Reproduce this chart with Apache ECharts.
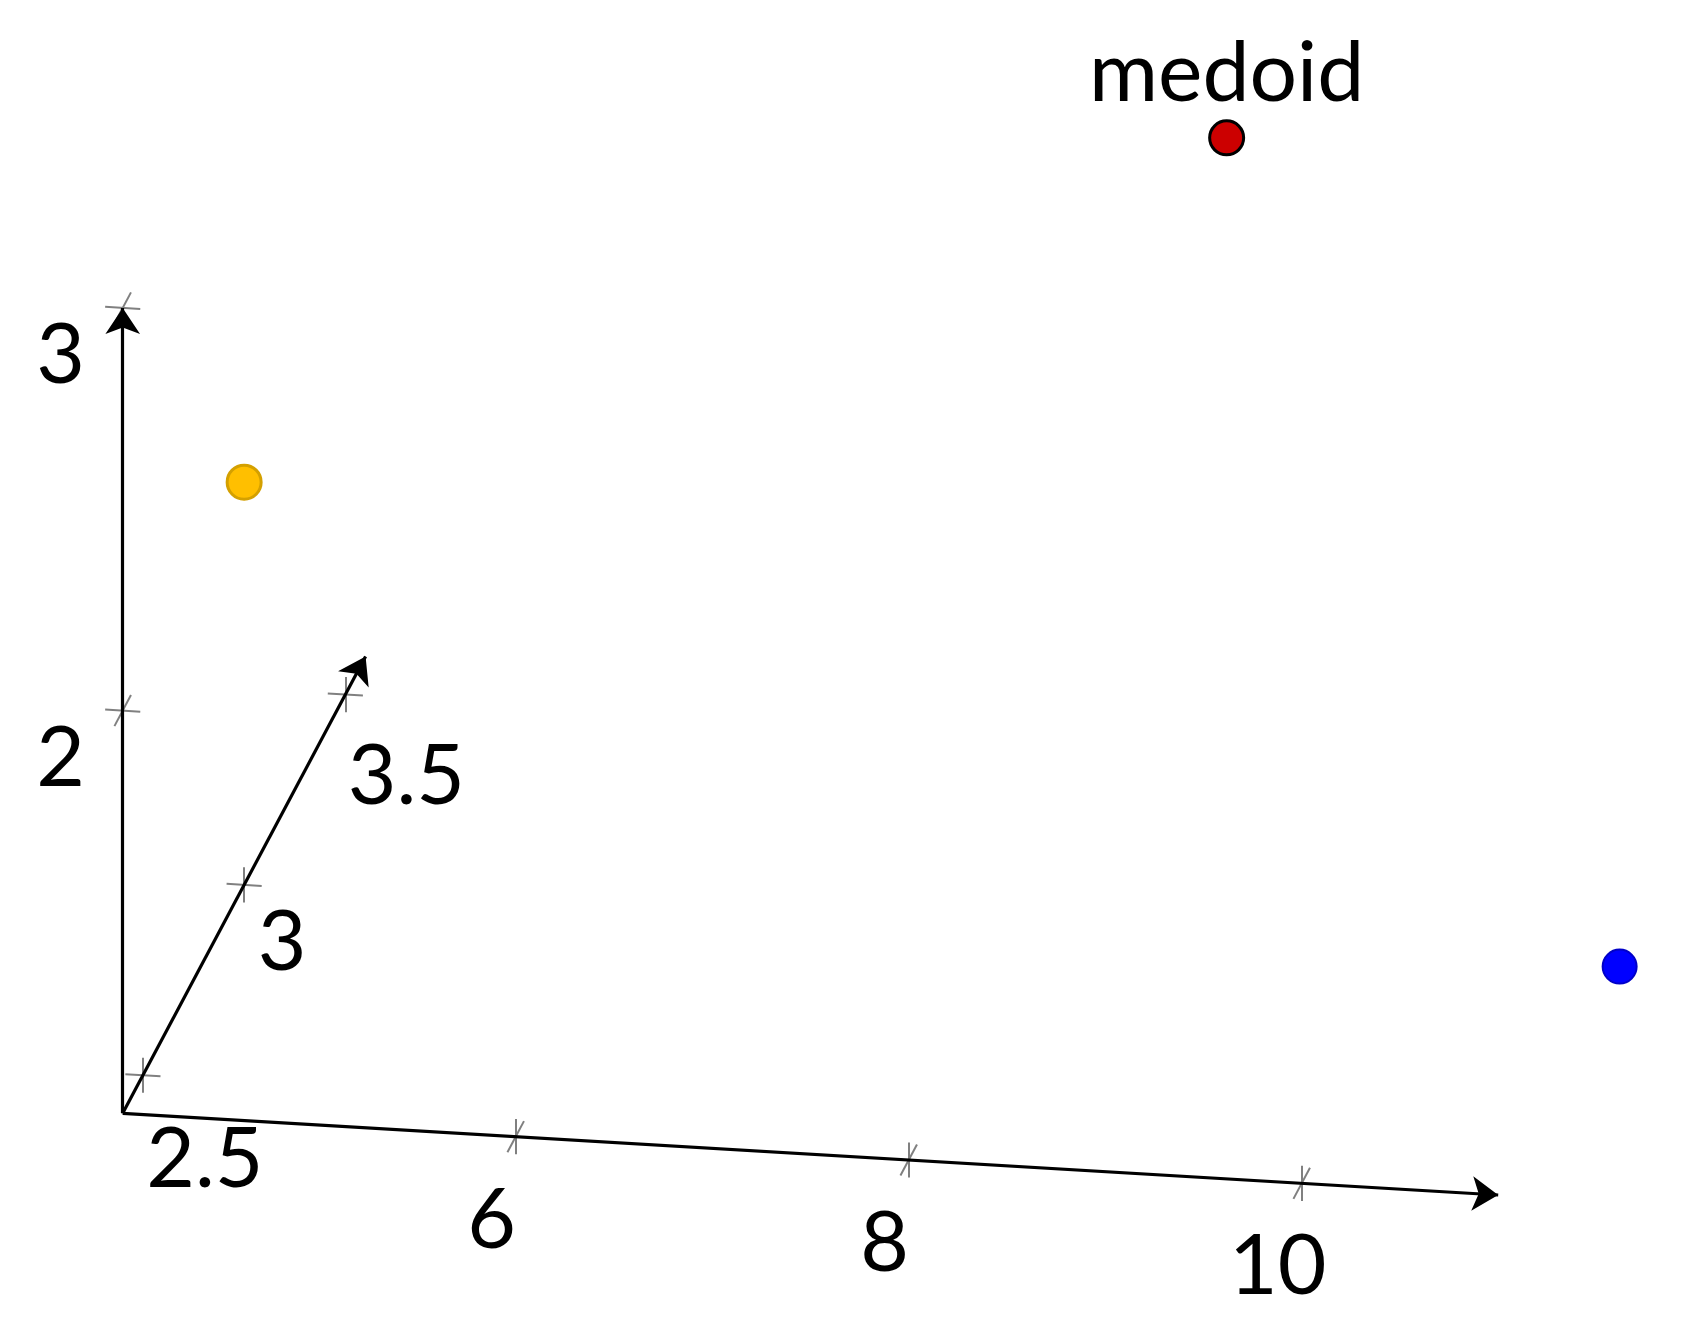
<!DOCTYPE html>
<html><head><meta charset="utf-8">
<script src="https://cdn.jsdelivr.net/npm/echarts@6/dist/echarts.min.js"></script>
<style>html,body{margin:0;padding:0;background:#fff}#c{width:1681px;height:1338px}</style>
</head><body><div id="c"></div>
<script>
// ---------------- data ----------------
const xRange = [4, 11];
const yRange = [2.4, 3.6];
const zRange = [1, 3];
const xTicks = [6, 8, 10];
const yTicks = [2.5, 3, 3.5];
const zTicks = [2, 3];
const xTickLabels = ['6', '8', '10'];
const yTickLabels = ['2.5', '3', '3.5'];
const zTickLabels = ['2', '3'];
const pointNames = ['', 'medoid', ''];
const pointX = [4, 9, 11];
const pointY = [3, 3, 3];
const pointZ = [2, 3, 1];

// ---------------- view / style ----------------
const VIEW = { origin: [122.7, 1113.3], ex: [196.5, 11.675], ey: [202.4, -380.7], ez: [0, -402.7] };
const FONT = 'Lato';
const FSIZE = 84;
const TICK_HALF = 17.6;
const ARROW_LEN = 26;
const xLabelOffset = [-24, 84];
const zLabelOffset = [-62, 48];
const yLabelOffsets = [[62, 84.5], [38, 58], [61, 82]];
const pointStyles = [
  { color: '#FFBF00', borderColor: '#D4A000', borderWidth: 3, opacity: 1 },
  { color: '#CC0000', borderColor: '#000000', borderWidth: 3, opacity: 1 },
  { color: '#0000FF', borderColor: '#0000C8', borderWidth: 2, opacity: 1 }
];

function project(x, y, z) {
  const a = x - xRange[0], b = y - yRange[0], c = z - zRange[0];
  return [VIEW.origin[0] + a * VIEW.ex[0] + b * VIEW.ey[0] + c * VIEW.ez[0],
          VIEW.origin[1] + a * VIEW.ex[1] + b * VIEW.ey[1] + c * VIEW.ez[1]];
}
function unit(v) { const l = Math.hypot(v[0], v[1]); return [v[0] / l, v[1] / l]; }
const ux = unit(VIEW.ex), uy = unit(VIEW.ey), uz = [0, -1];

// axes: origin -> max of each, arrow tip at the max
const o = project(xRange[0], yRange[0], zRange[0]);
const axisEnds = [
  project(xRange[1], yRange[0], zRange[0]),
  project(xRange[0], yRange[1], zRange[0]),
  project(xRange[0], yRange[0], zRange[1])
];
const axisLines = axisEnds.map(e => ({ coords: [o, e] }));

// tick marks: short strokes along the two other axis directions
const tickLines = [];
function addTick(p, dirs) {
  dirs.forEach(d => tickLines.push({ coords: [[p[0] - d[0] * TICK_HALF, p[1] - d[1] * TICK_HALF], [p[0] + d[0] * TICK_HALF, p[1] + d[1] * TICK_HALF]] }));
}
const labelData = [];
xTicks.forEach((t, i) => {
  const p = project(t, yRange[0], zRange[0]);
  addTick(p, [uy, uz]);
  labelData.push({ value: p, name: xTickLabels[i], label: { offset: xLabelOffset } });
});
yTicks.forEach((t, i) => {
  const p = project(xRange[0], t, zRange[0]);
  addTick(p, [ux, uz]);
  labelData.push({ value: p, name: yTickLabels[i], label: { offset: yLabelOffsets[i] } });
});
zTicks.forEach((t, i) => {
  const p = project(xRange[0], yRange[0], t);
  addTick(p, [ux, uy]);
  labelData.push({ value: p, name: zTickLabels[i], label: { offset: zLabelOffset } });
});

const pointData = pointX.map((x, i) => ({
  value: project(x, pointY[i], pointZ[i]),
  name: pointNames[i],
  itemStyle: pointStyles[i],
  label: { show: pointNames[i] !== '', position: 'inside', offset: [0, -64], formatter: '{b}',
           fontFamily: FONT, fontSize: FSIZE, color: '#000', opacity: 1 }
}));

const chart = echarts.init(document.getElementById('c'), null, { renderer: 'canvas' });
chart.setOption({
  animation: false,
  backgroundColor: '#ffffff',
  grid: { left: 0, top: 0, right: 0, bottom: 0 },
  xAxis: { type: 'value', min: 0, max: 1681, show: false },
  yAxis: { type: 'value', min: 0, max: 1338, inverse: true, show: false },
  series: [
    {
      type: 'lines', coordinateSystem: 'cartesian2d', silent: true, z: 2,
      lineStyle: { color: '#808080', width: 2, opacity: 1 },
      symbol: ['none', 'none'],
      data: tickLines
    },
    {
      type: 'lines', coordinateSystem: 'cartesian2d', silent: true, z: 3,
      lineStyle: { color: '#000000', width: 3.2, opacity: 1 },
      symbol: ['none', 'arrow'], symbolSize: [19.5, ARROW_LEN],
      data: axisLines
    },
    {
      type: 'scatter', silent: true, z: 4,
      symbolSize: 1, itemStyle: { color: 'rgba(0,0,0,0)', opacity: 1 },
      label: { show: true, position: 'inside', formatter: '{b}', fontFamily: FONT, fontSize: FSIZE, color: '#000', opacity: 1 },
      data: labelData
    },
    {
      type: 'scatter', silent: true, z: 5,
      symbol: 'circle', symbolSize: 34,
      itemStyle: { opacity: 1 },
      data: pointData
    }
  ]
});
</script>
</body></html>
